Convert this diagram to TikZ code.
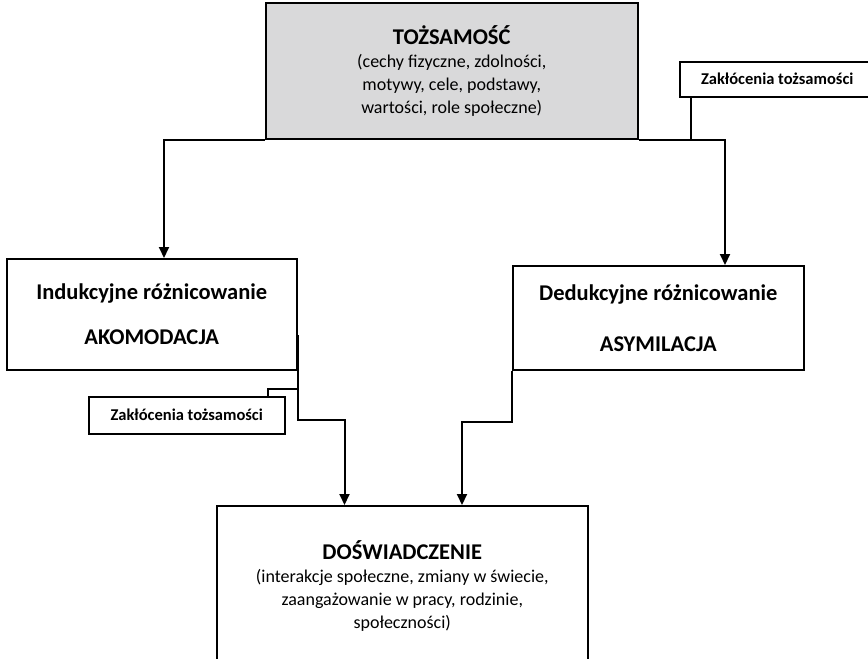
\documentclass[tikz,border=0pt]{standalone}
\usepackage{fontspec}
\setmainfont{Carlito}
\usetikzlibrary{arrows.meta,calc}
\definecolor{boxgray}{RGB}{217,217,218}
\begin{document}
\begin{tikzpicture}[x=1pt,y=-1pt,
  box/.style={draw=black,line width=1.5pt,anchor=north west,inner sep=0pt,align=center},
  body/.style={font=\fontsize{18}{23}\selectfont},
  head/.style={font=\fontsize{22.5}{26}\selectfont\bfseries},
  lab/.style={box,font=\fontsize{16.5}{18}\selectfont\bfseries},
  conn/.style={line width=2pt},
  arr/.style={conn,-{Triangle[width=10pt,length=11pt]}}]
\useasboundingbox (0,0) rectangle (868,659);
\clip (0,0) rectangle (868,659);
\node[box,fill=boxgray,body,minimum width=372pt,minimum height=136pt] (top) at (265,2)
  {{\fontsize{22.5}{24}\selectfont\bfseries TOŻSAMOŚĆ}\\(cechy fizyczne, zdolności,\\motywy, cele, podstawy,\\wartości, role społeczne)};
\node[lab,minimum width=195pt,minimum height=35pt] (rlab) at (679,61) {Zakłócenia tożsamości};
\node[box,head,minimum width=290pt,minimum height=111pt] (lbox) at (6,258)
  {Indukcyjne różnicowanie\\[19pt]AKOMODACJA};
\node[box,head,minimum width=291pt,minimum height=104pt] (rbox) at (512,265)
  {Dedukcyjne różnicowanie\\[25pt]ASYMILACJA};
\node[lab,minimum width=196pt,minimum height=37pt] (llab) at (88,396) {Zakłócenia tożsamości};
\node[box,body,minimum width=371pt,minimum height=160pt] (bbox) at (216,505)
  {{\fontsize{22.5}{24}\selectfont\bfseries DOŚWIADCZENIE}\\(interakcje społeczne, zmiany w świecie,\\zaangażowanie w pracy, rodzinie,\\społeczności)};
% connectors
\draw[arr] (top.south west) -| ($(lbox.north west)+(158,0)$);
\draw[arr] (top.south east) -| ($(rbox.north west)+(213,0)$);
\coordinate (rl) at ($(rlab.south west)+(12,0)$);
\draw[conn] (rl) -- (rl |- top.south);
\draw[arr] ($(lbox.north east)+(0,77)$) -- ++(0,85) -- ++(47,0) coordinate (lk) -- (lk |- bbox.north);
\draw[conn] ($(lbox.south east)+(0,18)$) -| ($(llab.north east)+(-18,0)$);
\draw[arr] (rbox.south west) -- ++(0,51) -- ++(-50,0) coordinate (rk) -- (rk |- bbox.north);
\end{tikzpicture}
\end{document}
